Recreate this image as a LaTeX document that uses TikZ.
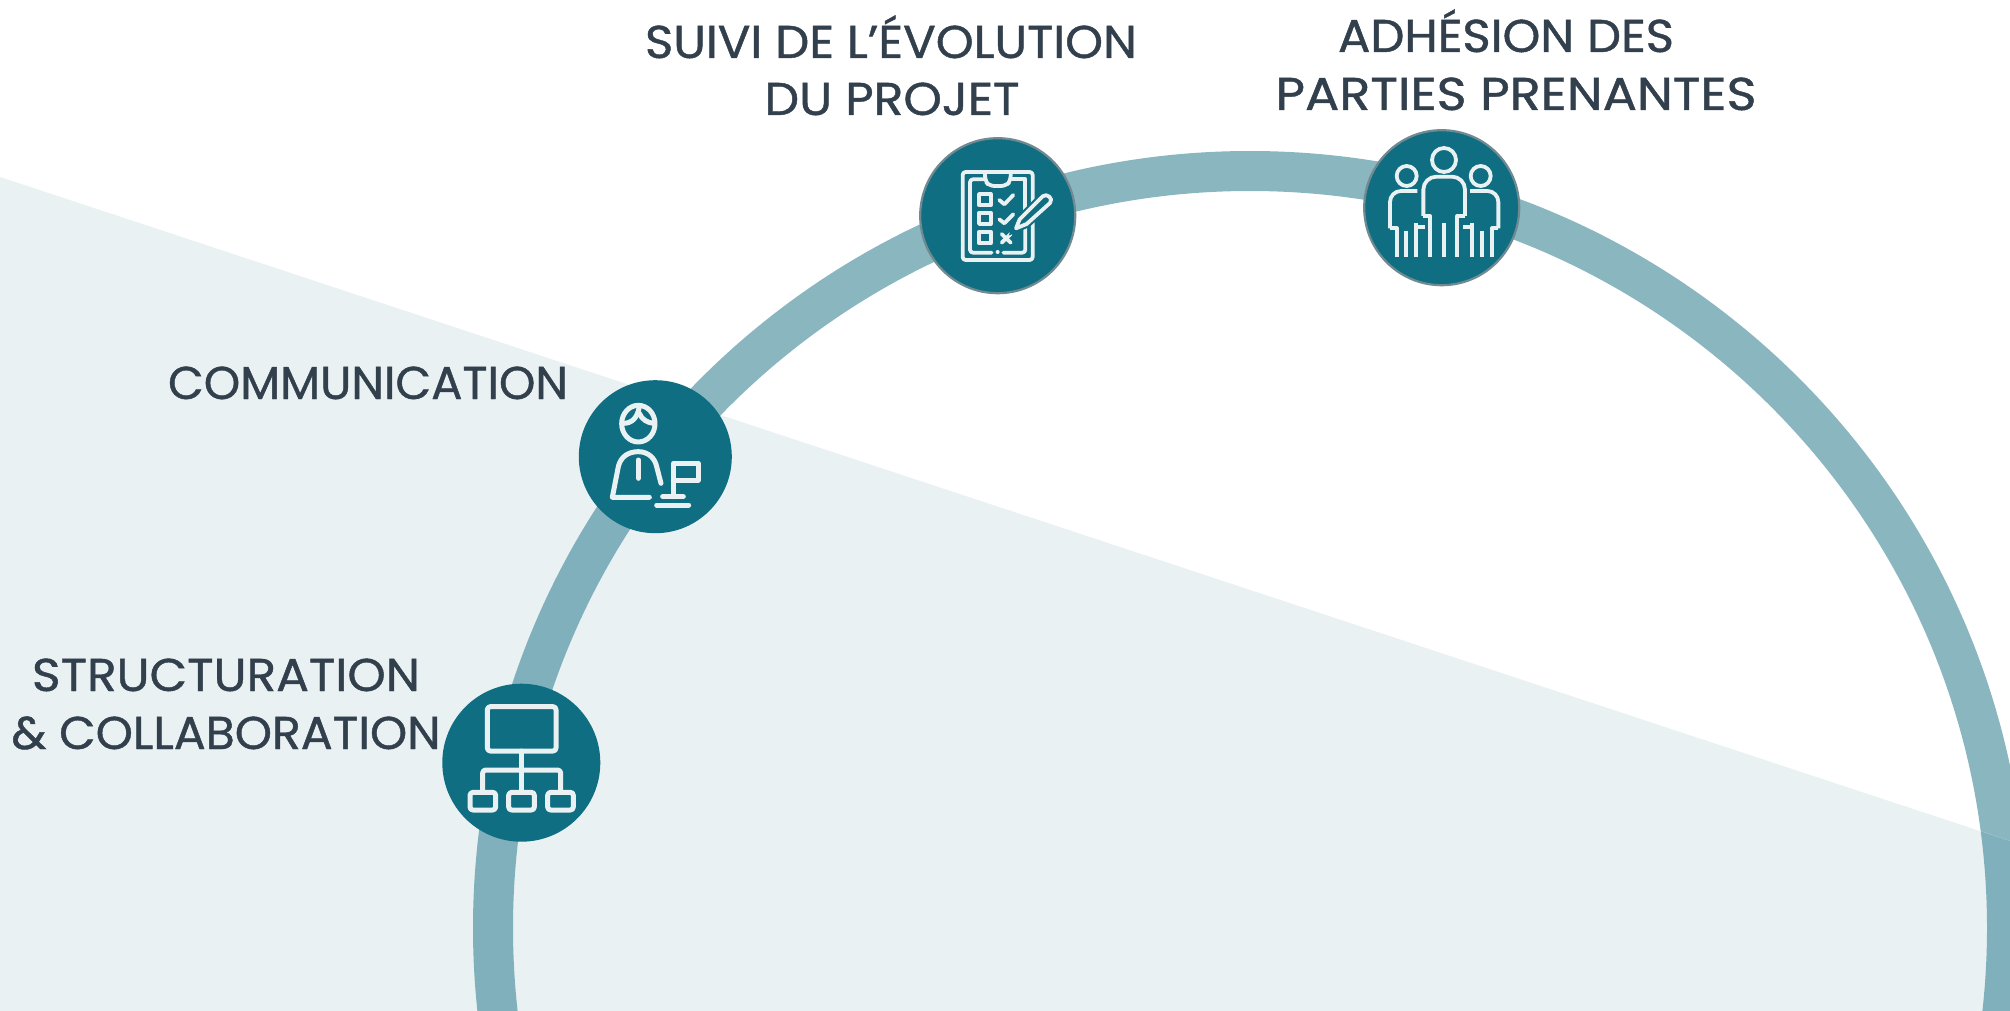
\documentclass[tikz,border=0pt]{standalone}
\usepackage{fontspec}
\usepackage{graphicx}
\setmainfont{Poppins}
\newfontfamily\labfont[FakeBold=0.9]{Poppins}
\definecolor{ringc}{HTML}{8AB6C0}
\definecolor{ringd}{HTML}{7FB0BC}
\definecolor{bandc}{HTML}{E9F1F3}
\definecolor{discc}{HTML}{0F6E82}
\definecolor{discb}{HTML}{6F8A90}
\definecolor{iconc}{HTML}{E9F1F3}
\definecolor{textc}{HTML}{323F4C}
\newcommand{\fitw}[2]{\resizebox{#1pt}{\height}{#2}}
\tikzset{
  x=1pt,y=-1pt,
  ringline/.style={draw=ringc,line width=40pt},
  disc/.style={circle,fill=discc,inner sep=0pt,minimum size=#1pt},
  rimdisc/.style={disc=#1,draw=discb,line width=2.2pt},
  iconline/.style={draw=iconc,line width=5pt,line cap=round,line join=round},
  lab/.style={text=textc,inner sep=0pt,font=\labfont\fontsize{46pt}{46pt}\selectfont,anchor=base},
}
\begin{document}
\begin{tikzpicture}
\useasboundingbox (0,0) rectangle (2010,1011);
\clip (0,0) rectangle (2010,1011);
\fill[white] (0,0) rectangle (2010,1011);
\coordinate (ringcentre) at (1250,928);
% ring and light band
\draw[ringline] (ringcentre) circle[radius=757pt];
\path[fill=bandc] (0,177) -- (2010,841) -- (2010,1011) -- (0,1011) -- cycle;
\begin{scope}
\clip (0,177) -- (2010,841) -- (2010,1011) -- (0,1011) -- cycle;
\draw[draw=ringd,line width=40pt] (ringcentre) circle[radius=757pt];
\end{scope}
% discs
\node[rimdisc=155] (suivi) at (997.7,215.7) {};
\node[rimdisc=155] (adhesion) at (1441.7,207.7) {};
\node[disc=153] (comm) at (655.3,456.7) {};
\node[disc=158] (struct) at (521.3,762.7) {};
% clipboard icon
\begin{scope}[shift={(890,110)},scale=1/3,iconline/.append style={line width=3.8pt}]
\draw[iconline,rounded corners=3pt] (285,186) -- (218,186) -- (218,450) -- (428,450) -- (428,186) -- (362,186);
\draw[iconline] (285,186) -- (362,186);
\draw[iconline,rounded corners=3pt] (285,208) -- (240,208) -- (240,428) -- (305,428);
\draw[iconline,rounded corners=3pt] (340,428) -- (406,428) -- (406,335);
\draw[iconline] (406,300) -- (406,208) -- (362,208);
\fill[iconc] (323,426) circle[radius=6];
\draw[iconline,rounded corners=5pt] (285,186) -- (285,212) -- (298,228) -- (348,228) -- (362,212) -- (362,186);
\draw[iconline] (267,252) rectangle (302,286) (267,308) rectangle (302,342) (267,365) rectangle (302,400);
\draw[iconline] (328,270) -- (343,283) -- (370,255) (328,328) -- (343,340) -- (370,313);
\draw[iconline] (335,372) -- (362,398) (362,372) -- (335,398);
\draw[iconline,fill=discc,preaction={draw=discc,line width=8pt}] (378,355) -- (389,328) -- (458,259) .. controls (470,248) and (492,266) .. (480,279) -- (410,342) -- cycle;
\end{scope}
% people icon
\begin{scope}[shift={(1340,110)},scale=1/3,iconline/.append style={line width=3.8pt,line cap=butt}]
\draw[iconline] (312,150) circle[radius=36] (200,198) circle[radius=30] (422,198) circle[radius=30];
\draw[iconline] (270,440) -- (270,318) -- (250,318);
\draw[iconline] (352,440) -- (352,318) -- (375,318);
\draw[iconline,rounded corners=13pt] (250,318) -- (250,200) -- (375,200) -- (375,318);
\draw[iconline] (312,338) -- (312,440);
\draw[iconline,rounded corners=11pt] (232,243) -- (150,243) -- (150,355);
\draw[iconline] (150,355) -- (170,355) -- (170,440);
\draw[iconline] (197,362) -- (197,440) (228,340) -- (228,440) (228,350) -- (254,350);
\draw[iconline,rounded corners=11pt] (390,243) -- (475,243) -- (475,355);
\draw[iconline] (475,355) -- (456,355) -- (456,440);
\draw[iconline] (427,362) -- (427,440) (396,340) -- (396,440) (396,350) -- (368,350);
\end{scope}
% person at desk icon
\begin{scope}[shift={(560,360)},scale=1/3]
\draw[iconline] (235,191) ellipse[x radius=50,y radius=55];
\draw[iconline] (190,190) .. controls (215,190) and (232,175) .. (238,140);
\draw[iconline] (280,190) .. controls (262,188) and (245,178) .. (238,160);
\draw[iconline] (268,412) -- (157,412) -- (175,320) .. controls (182,290) and (205,275) .. (235,275) .. controls (265,275) and (285,295) .. (290,320) -- (303,370);
\draw[iconline] (235,300) -- (235,355);
\draw[iconline] (340,410) -- (340,310) -- (415,310) -- (415,360) -- (340,360);
\draw[iconline] (308,410) -- (370,410);
\draw[iconline] (290,435) -- (386,435);
\end{scope}
% organisation chart icon
\begin{scope}[shift={(430,670)},scale=1/3]
\draw[iconline,rounded corners=3pt] (172,110) rectangle (378,243);
\draw[iconline] (274,243) -- (274,365);
\draw[iconline,rounded corners=3pt] (158,365) -- (158,300) -- (392,300) -- (392,365);
\draw[iconline,rounded corners=3pt] (120,367) rectangle (197,420);
\draw[iconline,rounded corners=3pt] (236,367) rectangle (313,420);
\draw[iconline,rounded corners=3pt] (353,367) rectangle (430,420);
\end{scope}
% labels
\node[lab] (t1a) at (891,58) {\fitw{492}{SUIVI DE L’ÉVOLUTION}};
\node[lab] (t1b) at (892,115) {\fitw{255}{DU PROJET}};
\node[lab] (t2a) at (1506,52) {\fitw{336}{ADHÉSION DES}};
\node[lab] (t2b) at (1516,110) {\fitw{481}{PARTIES PRENANTES}};
\node[lab] (t3) at (368,399) {\fitw{400}{COMMUNICATION}};
\node[lab] (t4a) at (226,691) {\fitw{388}{STRUCTURATION}};
\node[lab] (t4b) at (226,749) {\fitw{429}{\&\ COLLABORATION}};
\end{tikzpicture}
\end{document}
